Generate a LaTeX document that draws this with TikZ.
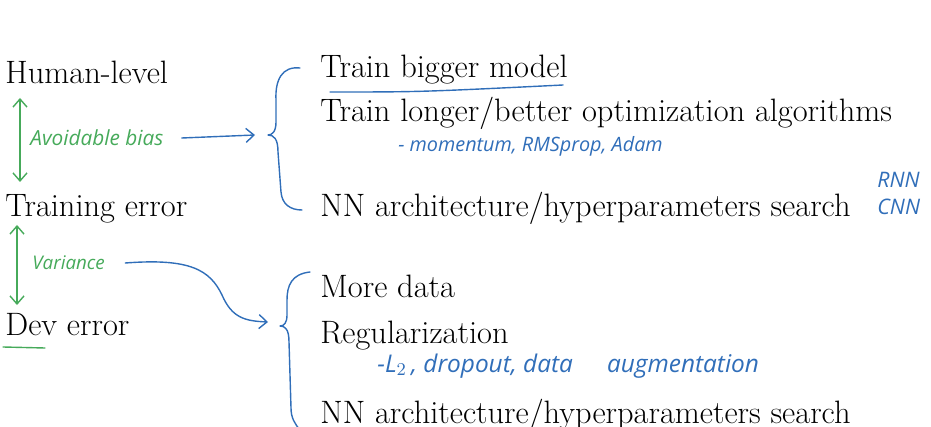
\documentclass[tikz,border=0pt]{standalone}
\usepackage{fontspec}
\usetikzlibrary{arrows.meta, calc}
\newfontfamily\handfont{Open Sans}
\definecolor{penblue}{RGB}{48, 110, 185}
\definecolor{pengreen}{RGB}{70, 170, 90}

\begin{document}
\begin{tikzpicture}[
  x=0.5pt, y=-0.5pt,
  rowtext/.style={anchor=base west, inner sep=0pt, font=\fontsize{16.2}{19}\selectfont},
  handtext/.style={anchor=west, inner sep=0pt, font=\handfont\itshape\fontsize{#1}{#1}\selectfont},
  handtext/.default=9,
  gpen/.style={draw=pengreen, line width=0.7pt, line cap=round},
  bpen/.style={draw=penblue, line width=0.7pt, line cap=round, line join=round},
  barb/.tip={Straight Barb[length=4pt, width=7pt]}
]
\useasboundingbox (0,0) rectangle (931,427);

% left column
\node[rowtext] (human) at (5,84) {Human-level};
\node[rowtext] (train) at (5,217) {Training error};
\node[rowtext] (dev) at (5,335) {Dev error};
\node[handtext=10.4, text=pengreen] (avoid) at (30,138) {Avoidable bias};
\node[handtext=9.4, text=pengreen] (variance) at (32,263) {Variance};

\draw[gpen, barb-barb] ($(human.base west)+(15,14)$) -- ($(train.base west)+(15,-35)$);
\draw[gpen, barb-barb] ($(train.base west)+(12,8)$) -- ($(dev.base west)+(12,-30)$);
\draw[gpen] ($(dev.base west)+(-2,12)$) -- ($(dev.base west)+(40,13)$);

% bias remedies
\node[rowtext] (bigger) at (320,78) {Train bigger model};
\node[rowtext] (longer) at (320,122) {Train longer/better optimization algorithms};
\node[handtext=9.9, text=penblue] (optim) at (398,146) {- momentum, RMSprop, Adam};
\node[rowtext] (search1) at (320,217) {NN architecture/hyperparameters search};
\node[handtext=10.7, text=penblue] (rnn) at (877,180) {RNN};
\node[handtext=10.7, text=penblue] (cnn) at (877,207) {CNN};

\draw[bpen] ($(bigger.base west)+(10,14)$) .. controls (420,92) .. ($(bigger.base east)+(-5,7)$);

\coordinate (tip1) at (268,135);
\draw[bpen] (300,68) .. controls (282,66) and (275,80) .. (276,100)
  -- (276,122) .. controls (276,132) and (272,135) .. (tip1)
  .. controls (274,135) and (278,139) .. (278,152)
  -- (281,192) .. controls (282,204) and (290,210) .. (302,210);
\draw[bpen, -barb] (avoid.east) ++(18,0) -- ($(tip1)+(-13,0)$);

% variance remedies
\node[rowtext] (moredata) at (320,297) {More data};
\node[rowtext] (regul) at (320,343) {Regularization};
\node[handtext=12.2, text=penblue] (regnote) at (377,366) {-L$_2$\,, dropout, data\hspace{1.4em}augmentation};
\node[rowtext] (search2) at (320,423) {NN architecture/hyperparameters search};

\coordinate (tip2) at (280,326);
\draw[bpen] (310,272) .. controls (292,274) and (287,285) .. (287,300)
  -- (287,315) .. controls (287,323) and (284,326) .. (tip2)
  .. controls (285,326) and (289,329) .. (289,342)
  -- (291,408) .. controls (291,418) and (295,424) .. (300,430);
\draw[bpen, -barb] ($(variance.east)+(20,0)$) .. controls (190,258) and (210,270) .. (222,295)
  .. controls (232,318) and (245,321) .. ($(tip2)+(-12,-4)$);
\end{tikzpicture}
\end{document}
